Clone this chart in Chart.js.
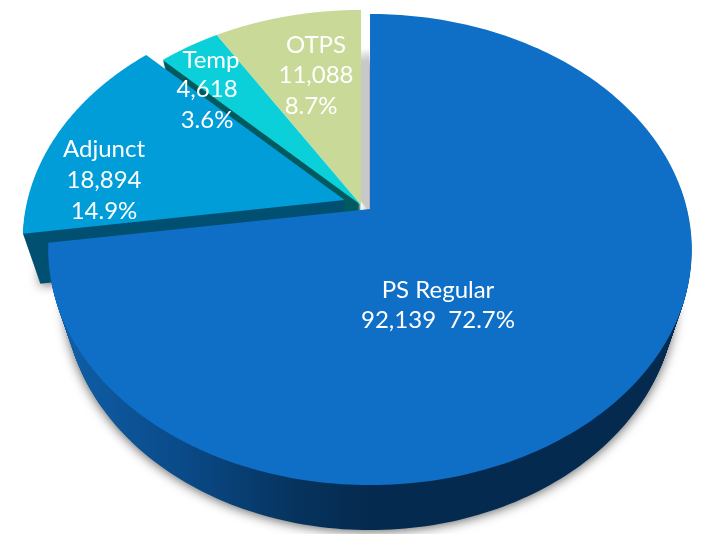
<!DOCTYPE html>
<html>
<head>
<meta charset="utf-8">
<style>
    html, body { margin: 0; padding: 0; background: #fff; }
    canvas { display: block; }
</style>
<script src="https://cdn.jsdelivr.net/npm/chart.js@4"></script>
</head>
<body>
<canvas id="pie" width="705" height="534"></canvas>
<script>
var categories = ["PS Regular", "Adjunct", "Temp", "OTPS"];
var headcounts = [92139, 18894, 4618, 11088];
var shares = ["72.7%", "14.9%", "3.6%", "8.7%"];

var topColors = ["#0f6fc6", "#009dd9", "#0bd0d9", "#c9d997"];
var wallColors = [null, "#005072", "#005a5f", null];

// where each slice tip lands on the page (the small slices are pulled out)
var tips = [[370, 209], [344.5, 200], [361, 205], [361, 205]];
var depths = [45, 50, 45, 45];
// text lines per slice: x, y of the first line, then line by line
var labelLines = [
    [[438, 290, categories[0]], [438, 320, headcounts[0].toLocaleString("en-US") + "  " + shares[0]]],
    [[104, 149, categories[1]], [104, 180, headcounts[1].toLocaleString("en-US")], [104, 211, shares[1]]],
    [[211, 60, categories[2]], [207, 89, headcounts[2].toLocaleString("en-US")], [207, 120, shares[2]]],
    [[316, 45, categories[3]], [316, 75, headcounts[3].toLocaleString("en-US")], [311, 106, shares[3]]]
];

var squeeze = 0.05;
var centerX = 370;

// perspective view of the flat pie, tilted away from the viewer
function project(arc, px, py, t, shift) {
    var u = (px - arc.x) / arc.outerRadius;
    var v = (py - arc.y) / arc.outerRadius;
    var w = 1 - 0.172 * v;
    var tip = tips[arc.$index];
    var x = tip[0] + 317 * u / w;
    var y = tip[1] + 228.6 * v / w;
    x = centerX + (x - centerX) * (1 - squeeze * t) + shift[0];
    y = y + depths[arc.$index] * t + shift[1];
    return [x, y];
}

// context wrapper so the library's own arc path goes through project()
function viewContext(ctx, arc, t, shift) {
    return new Proxy(ctx, {
        get: function (target, key) {
            if (key === "moveTo" || key === "lineTo") {
                return function (px, py) {
                    var p = project(arc, px, py, t, shift);
                    target[key](p[0], p[1]);
                };
            }
            if (key === "arc") {
                return function (cx, cy, r, a0, a1, ccw) {
                    var steps = 120;
                    for (var i = 0; i <= steps; i++) {
                        var a = a0 + (a1 - a0) * i / steps;
                        var p = project(arc, cx + r * Math.cos(a), cy + r * Math.sin(a), t, shift);
                        target.lineTo(p[0], p[1]);
                    }
                };
            }
            var val = target[key];
            return typeof val === "function" ? val.bind(target) : val;
        },
        set: function (target, key, val) {
            target[key] = val;
            return true;
        }
    });
}

function drawArc(ctx, arc, fill, t, shift) {
    var keep = arc.options;
    arc.options = Object.assign({}, keep, { backgroundColor: fill, borderWidth: 0 });
    arc.draw(viewContext(ctx, arc, t, shift || [0, 0]));
    arc.options = keep;
}

function drawWall(ctx, arc, fill) {
    var depth = depths[arc.$index];
    for (var d = depth; d > 0; d--) {
        ctx.save();
        if (d === depth) {
            ctx.shadowColor = "rgba(0, 0, 0, 0.65)";
            ctx.shadowBlur = 12;
            ctx.shadowOffsetY = 1;
        }
        drawArc(ctx, arc, fill, d / depth);
        ctx.restore();
    }
}

var pie3d = {
    id: "pie3d",
    beforeDatasetDraw: function (chart) {
        var ctx = chart.ctx;
        var arcs = chart.getDatasetMeta(0).data;
        arcs.forEach(function (arc, i) { arc.$index = i; });

        var mainWall = ctx.createLinearGradient(60, 0, 370, 0);
        mainWall.addColorStop(0, "#0f5fa8");
        mainWall.addColorStop(0.4, "#0a4a88");
        mainWall.addColorStop(0.75, "#06345f");
        mainWall.addColorStop(1, "#052a4f");

        var grey = ctx.createLinearGradient(0, 48, 0, 62);
        grey.addColorStop(0, "rgba(200, 200, 200, 0)");
        grey.addColorStop(1, "#c8c8c8");

        drawWall(ctx, arcs[0], mainWall);
        drawWall(ctx, arcs[2], wallColors[2]);
        drawArc(ctx, arcs[3], grey, 0, [8, 6]);
        drawWall(ctx, arcs[1], wallColors[1]);

        drawArc(ctx, arcs[0], topColors[0], 0);
        drawArc(ctx, arcs[3], topColors[3], 0);
        drawArc(ctx, arcs[2], topColors[2], 0);
        drawArc(ctx, arcs[1], topColors[1], 0);

        // slice labels
        ctx.save();
        ctx.fillStyle = "#ffffff";
        ctx.font = "24px Lato";
        ctx.textAlign = "center";
        ctx.textBaseline = "middle";
        labelLines.forEach(function (lines) {
            lines.forEach(function (line) {
                ctx.fillText(line[2], line[0], line[1]);
            });
        });
        ctx.restore();
        return false;
    }
};

new Chart(document.getElementById("pie").getContext("2d"), {
    type: "pie",
    data: {
        labels: categories,
        datasets: [{
            data: headcounts,
            backgroundColor: topColors,
            borderWidth: 0
        }]
    },
    options: {
        responsive: false,
        animation: false,
        events: [],
        plugins: {
            legend: { display: false },
            tooltip: { enabled: false }
        }
    },
    plugins: [pie3d]
});
</script>
</body>
</html>
